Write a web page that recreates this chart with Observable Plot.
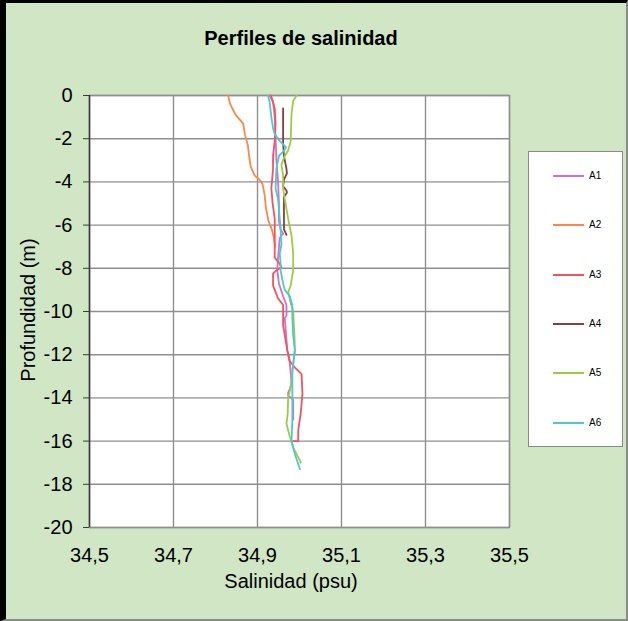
<!DOCTYPE html>
<html><head><meta charset="utf-8">
<script src="https://cdn.jsdelivr.net/npm/d3@7"></script>
<script src="https://cdn.jsdelivr.net/npm/@observablehq/plot@0.6"></script>
<style>
body{margin:0;background:#fff;font-family:"Liberation Sans",Arial,sans-serif;}
#wrap{position:relative;width:628px;height:621px;background:#d0e6c5;overflow:hidden;}
#frame{position:absolute;left:0;top:0;width:628px;height:621px;box-sizing:border-box;border-top:3px solid #000;border-left:6px solid #000;border-right:2px solid #8a8a8a;border-bottom:2px solid #8a8a8a;pointer-events:none;}
#title{height:60px;box-sizing:border-box;padding-top:26px;width:602px;text-align:center;font-weight:bold;font-size:20px;line-height:24px;}
#chart{height:561px;}
#chart svg{display:block;}
#ylab{position:absolute;left:28px;top:310px;transform:translate(-50%,-50%) rotate(-90deg);font-size:20px;white-space:nowrap;}
#xlab{position:absolute;left:291px;top:581px;transform:translate(-50%,-50%);font-size:20px;white-space:nowrap;}
#legend{position:absolute;left:528px;top:151px;width:95px;height:296px;box-sizing:border-box;background:#fff;border:1.5px solid #8a8a8a;}
.li{position:absolute;left:24px;height:12px;font-size:10px;line-height:12px;}
.li span.sw{position:absolute;left:0;top:5px;width:31px;height:2px;}
.li span.tx{position:absolute;left:36px;top:0;}
</style></head>
<body>
<div id="wrap">
  <div id="title">Perfiles de salinidad</div>
  <div id="chart"></div>
  <div id="ylab">Profundidad (m)</div>
  <div id="xlab">Salinidad (psu)</div>
  <div id="legend"></div>
  <div id="frame"></div>
</div>
<script>
const series = ["A1", "A2", "A3", "A4", "A5", "A6"];
const colors = ["#d26fd0", "#f7894a", "#f2545b", "#8e3b3e", "#9ccc44", "#4cc9cf"];
const xTicks = [34.5, 34.7, 34.9, 35.1, 35.3, 35.5];
const yTicks = [0, -2, -4, -6, -8, -10, -12, -14, -16, -18, -20];

const a1Depth = [0, -0.3, -1.0, -2.0, -3.0, -4.0, -5.0, -5.8, -6.2, -6.4, -6.6, -7.5, -8.1, -8.7, -9.3, -9.7, -10.2, -10.3, -11.8, -12.4, -13.3, -13.6, -13.75, -13.9, -14.0, -14.1, -14.7, -15.0];
const a1Sal   = [34.929, 34.937, 34.941, 34.943, 34.945, 34.949, 34.951, 34.951, 34.955, 34.961, 34.953, 34.949, 34.947, 34.951, 34.961, 34.969, 34.969, 34.965, 34.971, 34.977, 34.981, 34.977, 34.973, 34.973, 34.981, 34.985, 34.985, 34.985];

const a2Depth = [0, -0.4, -0.9, -1.3, -1.8, -2.3, -2.8, -3.3, -3.7, -3.9, -4.1, -4.6, -5.2, -5.8, -6.2, -6.5, -7.0];
const a2Sal   = [34.830, 34.835, 34.848, 34.866, 34.870, 34.877, 34.880, 34.884, 34.893, 34.905, 34.912, 34.917, 34.920, 34.926, 34.934, 34.938, 34.942];

const a3Depth = [0, -0.3, -0.6, -1.3, -2.1, -2.8, -3.4, -4.3, -5.0, -5.7, -6.6, -7.5, -7.8, -7.95, -8.1, -8.25, -8.8, -9.4, -9.7, -10.65, -11.1, -11.8, -12.3, -12.6, -12.9, -13.8, -14.7, -15.5, -16.0, -16.0];
const a3Sal   = [34.932, 34.937, 34.941, 34.943, 34.941, 34.937, 34.937, 34.933, 34.936, 34.941, 34.941, 34.941, 34.953, 34.957, 34.945, 34.937, 34.937, 34.949, 34.961, 34.961, 34.965, 34.971, 34.977, 34.989, 35.005, 35.007, 35.003, 34.997, 34.997, 34.985];

const a4Depth = [-0.6, -2.2, -2.8, -3.4, -3.6, -3.9, -4.2, -4.4, -4.5, -4.7, -5.7, -6.2, -6.45];
const a4Sal   = [34.961, 34.961, 34.963, 34.969, 34.970, 34.963, 34.961, 34.969, 34.970, 34.963, 34.963, 34.963, 34.969];

const a5Depth = [0, -0.25, -0.85, -2.1, -2.55, -2.8, -3.2, -3.7, -4.3, -4.8, -5.7, -6.5, -7.3, -8.1, -8.8, -9.1, -9.6, -10.0, -11.1, -11.8, -12.5, -13.5, -14.0, -14.7, -15.2, -15.8, -16.3, -16.9, -17.0];
const a5Sal   = [34.993, 34.985, 34.981, 34.979, 34.973, 34.965, 34.957, 34.961, 34.961, 34.965, 34.973, 34.981, 34.985, 34.985, 34.979, 34.973, 34.979, 34.985, 34.988, 34.989, 34.985, 34.979, 34.973, 34.972, 34.969, 34.977, 34.985, 35.001, 35.003];

const a6Depth = [0, -0.3, -1.0, -1.5, -1.8, -2.1, -2.4, -2.6, -2.8, -3.2, -3.4, -4.3, -4.8, -5.7, -6.2, -6.9, -7.3, -7.8, -8.1, -8.7, -9.0, -9.3, -9.7, -10.3, -11.1, -11.8, -12.7, -14.1, -15.0, -16.0, -16.6, -17.3];
const a6Sal   = [34.925, 34.929, 34.933, 34.937, 34.941, 34.953, 34.968, 34.961, 34.951, 34.947, 34.945, 34.943, 34.949, 34.953, 34.955, 34.957, 34.953, 34.955, 34.955, 34.961, 34.965, 34.977, 34.983, 34.983, 34.985, 34.989, 34.983, 34.983, 34.983, 34.981, 34.989, 35.001];

const pairs = [[a1Depth, a1Sal], [a2Depth, a2Sal], [a3Depth, a3Sal], [a4Depth, a4Sal], [a5Depth, a5Sal], [a6Depth, a6Sal]];
const rows = [];
pairs.forEach(([d, s], i) => d.forEach((v, j) => rows.push({serie: series[i], depth: v, sal: s[j]})));

const fmtX = d => d.toFixed(1).replace(".", ",");
const fmtY = d => String(d);

const chart = Plot.plot({
  width: 628, height: 561,
  marginLeft: 89, marginRight: 119, marginTop: 35, marginBottom: 94,
  style: {background: "transparent", fontFamily: "'Liberation Sans', Arial, sans-serif", fontSize: "20px", color: "#000", overflow: "visible"},
  x: {domain: [34.5, 35.5], label: null},
  y: {domain: [-20, 0], label: null},
  color: {domain: series, range: colors},
  marks: [
    Plot.frame({fill: "#fff", stroke: "none"}),
    Plot.gridX(xTicks, {stroke: "#8f8f8f", strokeOpacity: 1, strokeWidth: 1.4}),
    Plot.gridY(yTicks, {stroke: "#8f8f8f", strokeOpacity: 1, strokeWidth: 1.4}),
    Plot.frame({stroke: "#8f8f8f", strokeWidth: 1.4}),
    Plot.ruleX([34.5], {stroke: "#3a3a3a", strokeWidth: 1.4}),
    Plot.axisY(yTicks, {tickSize: 6, tickPadding: 11, tickFormat: fmtY, stroke: "#3a3a3a", fontSize: 20, label: null}),
    Plot.axisX(xTicks, {tickSize: 0, tickPadding: 20, tickFormat: fmtX, fontSize: 20, label: null}),
    Plot.line(rows, {x: "sal", y: "depth", z: "serie", stroke: "serie", strokeWidth: 1.8})
  ]
});
document.getElementById("chart").appendChild(chart);

const leg = document.getElementById("legend");
const legY = [176, 225, 275, 324, 373, 423];
series.forEach((s, i) => {
  const el = document.createElement("div");
  el.className = "li";
  el.style.top = (legY[i] - 151 - 7) + "px";
  el.innerHTML = `<span class="sw" style="background:${colors[i]}"></span><span class="tx">${s}</span>`;
  leg.appendChild(el);
});
</script>
</body></html>
